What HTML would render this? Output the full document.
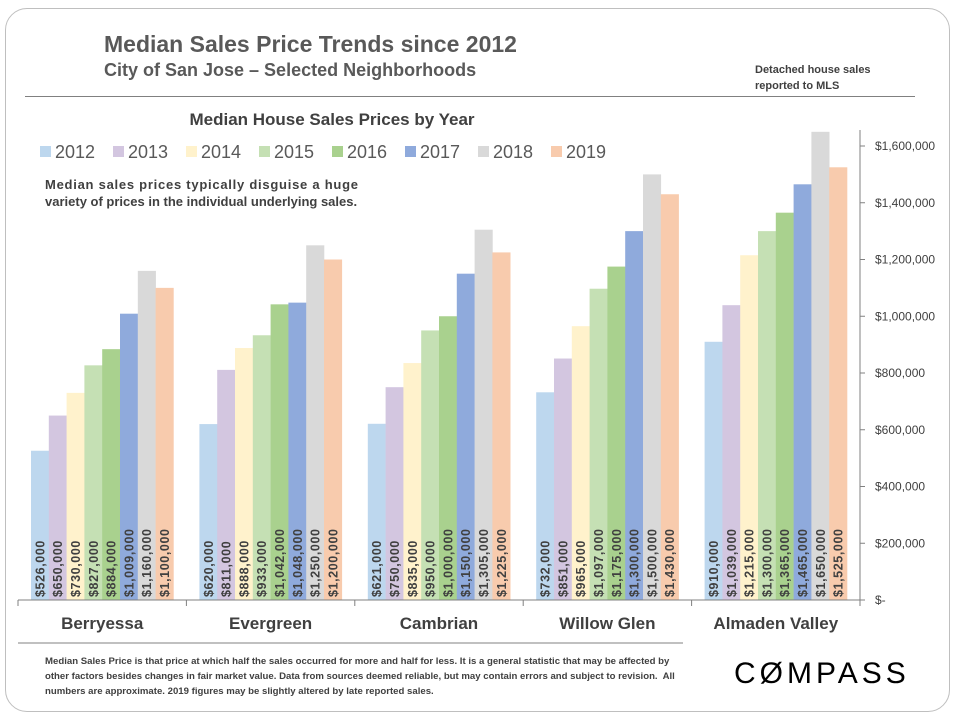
<!DOCTYPE html>
<html><head><meta charset="utf-8"><style>
body{margin:0;width:960px;height:720px;background:#fff;overflow:hidden;font-family:"Liberation Sans Narrow","Liberation Sans",sans-serif;}
.t{position:absolute;color:#595959;font-weight:bold;white-space:nowrap;}
</style></head><body>
<div style="position:absolute;left:5px;top:8px;width:943px;height:702px;border:1px solid #bfbfbf;border-radius:22px;"></div>
<div class="t" style="left:104px;top:31px;font-size:23px;">Median Sales Price Trends since 2012</div>
<div class="t" style="left:104px;top:60px;font-size:18px;">City of San Jose – Selected Neighborhoods</div>
<div class="t" style="left:755px;top:62px;font-size:11px;line-height:16px;color:#404040;">Detached house sales<br>reported to MLS</div>
<div style="position:absolute;left:25px;top:96px;width:890px;height:1px;background:#808080;"></div>
<svg id="chart" width="960" height="720" style="position:absolute;left:0;top:0;font-family:'Liberation Sans Narrow','Liberation Sans',sans-serif;"></svg>
<div class="t" style="left:45px;top:654px;font-size:9.6px;line-height:15px;color:#404040;white-space:normal;width:630px;">Median Sales Price is that price at which half the sales occurred for more and half for less. It is a general statistic that may be affected by other factors besides changes in fair market value. Data from sources deemed reliable, but may contain errors and subject to revision.&nbsp; All numbers are approximate. 2019 figures may be slightly altered by late reported sales.</div>
<div style="position:absolute;left:734px;top:657px;font-family:'Liberation Sans',sans-serif;font-size:30px;letter-spacing:4px;color:#000;">C&Oslash;MPASS</div>
<script>
const categories=["Berryessa","Evergreen","Cambrian","Willow Glen","Almaden Valley"];
const years=["2012","2013","2014","2015","2016","2017","2018","2019"];
const v2012=[526000,620000,621000,732000,910000];
const v2013=[650000,811000,750000,851000,1039000];
const v2014=[730000,888000,835000,965000,1215000];
const v2015=[827000,933000,950000,1097000,1300000];
const v2016=[884000,1042000,1000000,1175000,1365000];
const v2017=[1009000,1048000,1150000,1300000,1465000];
const v2018=[1160000,1250000,1305000,1500000,1650000];
const v2019=[1100000,1200000,1225000,1430000,1525000];
const yTicks=[0,200000,400000,600000,800000,1000000,1200000,1400000,1600000];
const yTickLabels=["$-","$200,000","$400,000","$600,000","$800,000","$1,000,000","$1,200,000","$1,400,000","$1,600,000"];
const series=[v2012,v2013,v2014,v2015,v2016,v2017,v2018,v2019];
const colors=["#bdd7ee","#d3c6e0","#fff2cc","#c5e0b4","#a9d18e","#8faadc","#d9d9d9","#f8cbad"];
const svg=document.getElementById('chart');const NS="http://www.w3.org/2000/svg";
function mk(t,a){const e=document.createElementNS(NS,t);for(const k in a)e.setAttribute(k,a[k]);svg.appendChild(e);return e;}
const x0=18,x1=860,y0=600,y1=146;
const yS=v=>y0-(v/1600000)*(y0-y1);
const gW=(x1-x0)/categories.length,bW=17.8,pad=(gW-bW*8)/2;
const xS=(g,s)=>x0+g*gW+pad+s*bW;
series.forEach((arr,s)=>arr.forEach((v,g)=>{
 const r=mk('rect',{x:xS(g,s),y:yS(v),width:bW+0.3,height:y0-yS(v),fill:colors[s]});
 
 
 const cx=xS(g,s)+bW/2+4.5;
 const t=mk('text',{x:cx,y:597,transform:'rotate(-90 '+cx+' 597)','font-size':'12.5','letter-spacing':'0.6','font-weight':'bold',fill:'#404040','font-family':"'Liberation Sans',sans-serif"});
 t.textContent='$'+v.toLocaleString('en-US');
 
 
}));
const ax=mk('line',{x1:x0,y1:y0,x2:x1,y2:y0,stroke:'#808080'});

const ay=mk('line',{x1:x1,y1:130,x2:x1,y2:y0,stroke:'#808080'});

for(let g=0;g<=categories.length;g++){mk('line',{x1:x0+g*gW,y1:y0,x2:x0+g*gW,y2:y0+6,stroke:'#808080'});}
categories.forEach((c,g)=>{const t=mk('text',{x:x0+g*gW+gW/2,y:629,'text-anchor':'middle','font-size':'17','font-weight':'bold',fill:'#404040'});t.textContent=c;
 });
yTicks.forEach((v,i)=>{mk('line',{x1:x1,y1:yS(v),x2:x1+5,y2:yS(v),stroke:'#808080'});
 const t=mk('text',{x:875,y:yS(v)+4,'font-size':'12',fill:'#404040'});t.textContent=yTickLabels[i];
 });
const ct=mk('text',{x:332,y:125,'text-anchor':'middle','font-size':'17','font-weight':'bold',fill:'#404040'});ct.textContent='Median House Sales Prices by Year';

years.forEach((y,i)=>{const lx=40+i*73;
 const r=mk('rect',{x:lx,y:146,width:11,height:11,fill:colors[i]});
 
 const t=mk('text',{x:lx+15,y:158,'font-size':'18',fill:'#595959'});t.textContent=y;
 });
const n1=mk('text',{x:45,y:189,'font-size':'13','font-weight':'bold',fill:'#404040',textLength:313});n1.textContent='Median sales prices typically disguise a huge';

const n2=mk('text',{x:45,y:206,'font-size':'13','font-weight':'bold',fill:'#404040'});n2.textContent='variety of prices in the individual underlying sales.';

const fl=mk('line',{x1:18,y1:643,x2:683,y2:643,stroke:'#808080'});

</script>
</body></html>
